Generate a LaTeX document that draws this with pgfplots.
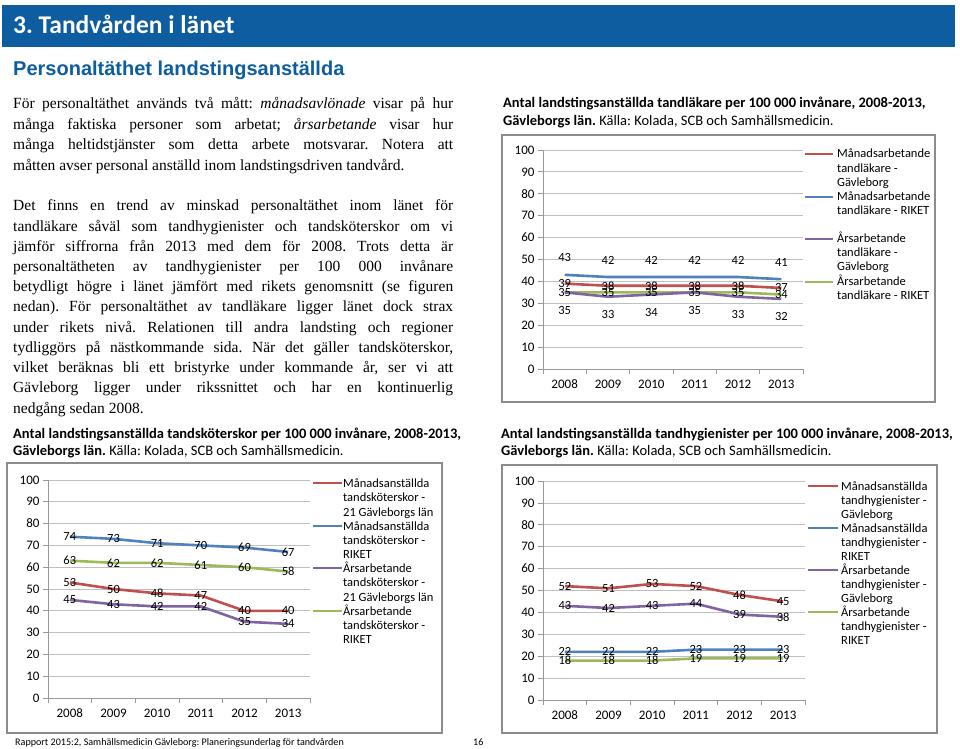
\documentclass[border=0pt]{standalone}
\usepackage{fontspec}
\usepackage{pgfplots}
\pgfplotsset{compat=1.18}
\setmainfont{Liberation Serif}
\newfontfamily\calfont{Carlito}
\newfontfamily\arialfont{Liberation Sans}
\frenchspacing

\definecolor{hdr}{RGB}{14,93,160}
\definecolor{sred}{RGB}{192,80,77}
\definecolor{sblue}{RGB}{79,129,189}
\definecolor{spurple}{RGB}{128,100,162}
\definecolor{sgreen}{RGB}{155,187,89}
\definecolor{framegray}{RGB}{140,140,140}

\pgfplotsset{
  /pgf/number format/assume math mode=true,
  excel/.style={
    scale only axis, anchor=south west,
    width=261pt, height=219pt,
    xmin=-0.5, xmax=5.5, ymin=0, ymax=100,
    axis lines=left, axis line style={-, draw=gray!80, line width=0.8pt},
    xtick={0,...,5},
    xticklabels={2008,2009,2010,2011,2012,2013},
    minor xtick={-0.5,0.5,...,5.5},
    major x tick style={draw=none},
    ytick={0,10,...,100},
    tick align=outside, major tick length=5pt, minor tick length=5pt,
    tick style={draw=gray!80, line width=0.8pt},
    ymajorgrids, grid style={draw=gray!50, line width=0.8pt},
    tick label style={font=\calfont\fontsize{13}{15}\selectfont},
    xticklabel style={anchor=base, yshift=-14pt},
    every axis plot/.append style={line width=2.6pt, mark=none},
    nodes near coords,
    every node near coord/.append style={font=\calfont\fontsize{12.5}{14}\selectfont,
      anchor=center, inner sep=0pt, text=black},
  }
}

% text helpers (y measured from the top of the page)
\newcommand\jline[2]{\node[anchor=base west, inner sep=0pt, font=\fontsize{15.5}{20}\selectfont]
  at (13,748-#1) {\makebox[440pt][s]{#2}};}
\newcommand\nline[2]{\node[anchor=base west, inner sep=0pt, font=\fontsize{15.5}{20}\selectfont]
  at (13,748-#1) {#2};}
\newcommand\capt[3]{\node[anchor=base west, inner sep=0pt, font=\calfont\fontsize{14.5}{16}\selectfont]
  at (#1,748-#2) {#3};}
\newcommand\legt[3]{\node[anchor=base west, inner sep=0pt, font=\calfont\fontsize{12.5}{14}\selectfont]
  at (#1,748-#2-4) {#3};}
\newcommand\legl[4]{\draw[#4, line width=2.6pt] (#1,748-#3) -- (#2,748-#3);}

\begin{document}
\begin{tikzpicture}[x=1pt,y=1pt]
\path[use as bounding box, fill=white] (0,0) rectangle (960,748);

% header
\fill[hdr] (2,748-5) rectangle (955,748-47);
\node[anchor=base west, inner sep=0pt, text=white, font=\calfont\bfseries\fontsize{25.5}{30}\selectfont]
  at (13,748-34) {3. Tandvården i länet};
\node[anchor=base west, inner sep=0pt, text=hdr, font=\arialfont\bfseries\fontsize{20}{24}\selectfont]
  at (13,748-76) {Personaltäthet landstingsanställda};

% body text
\jline{109}{För personaltäthet används två mått: \emph{månadsavlönade} visar på hur}
\jline{129.5}{många faktiska personer som arbetat; \emph{årsarbetande} visar hur}
\jline{150}{många heltidstjänster som detta arbete motsvarar. Notera att}
\nline{170.5}{måtten avser personal anställd inom landstingsdriven tandvård.}

\jline{211}{Det finns en trend av minskad personaltäthet inom länet för}
\jline{231.2}{tandläkare såväl som tandhygienister och tandsköterskor om vi}
\jline{251.4}{jämför siffrorna från 2013 med dem för 2008. Trots detta är}
\jline{271.6}{personaltätheten av tandhygienister per 100 000 invånare}
\jline{291.8}{betydligt högre i länet jämfört med rikets genomsnitt (se figuren}
\jline{312}{nedan). För personaltäthet av tandläkare ligger länet dock strax}
\jline{332.2}{under rikets nivå. Relationen till andra landsting och regioner}
\jline{352.4}{tydliggörs på nästkommande sida. När det gäller tandsköterskor,}
\jline{372.6}{vilket beräknas bli ett bristyrke under kommande år, ser vi att}
\jline{392.8}{Gävleborg ligger under rikssnittet och har en kontinuerlig}
\nline{413}{nedgång sedan 2008.}

% captions
\capt{503}{108}{\textbf{Antal landstingsanställda tandläkare per 100 000 invånare, 2008-2013,}}
\capt{503}{126}{\textbf{Gävleborgs län.} Källa: Kolada, SCB och Samhällsmedicin.}
\capt{13}{438}{\textbf{Antal landstingsanställda tandsköterskor per 100 000 invånare, 2008-2013,}}
\capt{13}{455}{\textbf{Gävleborgs län.} Källa: Kolada, SCB och Samhällsmedicin.}
\capt{501}{438}{\textbf{Antal landstingsanställda tandhygienister per 100 000 invånare, 2008-2013,}}
\capt{501}{455}{\textbf{Gävleborgs län.} Källa: Kolada, SCB och Samhällsmedicin.}

% frames
\draw[framegray, line width=1.3pt] (502,748-135) rectangle (935,748-402);
\draw[framegray, line width=1.3pt] (7,748-463) rectangle (442,748-733);
\draw[framegray, line width=1.3pt] (502,748-465) rectangle (937,748-733);

% chart 1: tandläkare
\begin{axis}[excel, at={(543pt,379pt)}, width=260pt, height=219pt]
\addplot[sred] coordinates {(0,39) (1,38) (2,38) (3,38) (4,38) (5,37)};
\addplot[sblue, every node near coord/.append style={yshift=17pt}]
  coordinates {(0,43) (1,42) (2,42) (3,42) (4,42) (5,41)};
\addplot[sgreen] coordinates {(0,35) (1,35) (2,35) (3,35) (4,35) (5,34)};
\addplot[spurple, every node near coord/.append style={yshift=-18pt}]
  coordinates {(0,35) (1,33) (2,34) (3,35) (4,33) (5,32)};
\end{axis}

% chart 2: tandsköterskor
\begin{axis}[excel, at={(48pt,50pt)}, width=262pt, height=218pt]
\addplot[sred] coordinates {(0,53) (1,50) (2,48) (3,47) (4,40) (5,40)};
\addplot[sblue] coordinates {(0,74) (1,73) (2,71) (3,70) (4,69) (5,67)};
\addplot[spurple] coordinates {(0,45) (1,43) (2,42) (3,42) (4,35) (5,34)};
\addplot[sgreen] coordinates {(0,63) (1,62) (2,62) (3,61) (4,60) (5,58)};
\end{axis}

% chart 3: tandhygienister
\begin{axis}[excel, at={(543pt,48pt)}, width=262pt, height=219pt]
\addplot[sred] coordinates {(0,52) (1,51) (2,53) (3,52) (4,48) (5,45)};
\addplot[sblue] coordinates {(0,22) (1,22) (2,22) (3,23) (4,23) (5,23)};
\addplot[spurple] coordinates {(0,43) (1,42) (2,43) (3,44) (4,39) (5,38)};
\addplot[sgreen] coordinates {(0,18) (1,18) (2,18) (3,19) (4,19) (5,19)};
\end{axis}

% legend chart 1
\legl{805}{833}{154}{sred}
\legl{805}{833}{197}{sblue}
\legl{805}{833}{239}{spurple}
\legl{805}{833}{282}{sgreen}
\legt{837}{154}{Månadsarbetande}
\legt{837}{169}{tandläkare -}
\legt{837}{183}{Gävleborg}
\legt{837}{197}{Månadsarbetande}
\legt{837}{211}{tandläkare - RIKET}
\legt{837}{239}{Årsarbetande}
\legt{837}{253}{tandläkare -}
\legt{837}{267}{Gävleborg}
\legt{837}{282}{Årsarbetande}
\legt{837}{296}{tandläkare - RIKET}

% legend chart 2
\legl{313}{342}{483}{sred}
\legl{313}{342}{526}{sblue}
\legl{313}{342}{568}{spurple}
\legl{313}{342}{611}{sgreen}
\legt{343}{483}{Månadsanställda}
\legt{343}{497}{tandsköterskor -}
\legt{343}{512}{21 Gävleborgs län}
\legt{343}{526}{Månadsanställda}
\legt{343}{540}{tandsköterskor -}
\legt{343}{554}{RIKET}
\legt{343}{568}{Årsarbetande}
\legt{343}{582}{tandsköterskor -}
\legt{343}{597}{21 Gävleborgs län}
\legt{343}{611}{Årsarbetande}
\legt{343}{625}{tandsköterskor -}
\legt{343}{639}{RIKET}

% legend chart 3
\legl{808}{838}{486}{sred}
\legl{808}{838}{528}{sblue}
\legl{808}{838}{570}{spurple}
\legl{808}{838}{612}{sgreen}
\legt{841}{486}{Månadsanställda}
\legt{841}{500}{tandhygienister -}
\legt{841}{514}{Gävleborg}
\legt{841}{528}{Månadsanställda}
\legt{841}{542}{tandhygienister -}
\legt{841}{556}{RIKET}
\legt{841}{570}{Årsarbetande}
\legt{841}{584}{tandhygienister -}
\legt{841}{598}{Gävleborg}
\legt{841}{612}{Årsarbetande}
\legt{841}{626}{tandhygienister -}
\legt{841}{640}{RIKET}

% footer
\node[anchor=base west, inner sep=0pt, font=\calfont\fontsize{10.1}{12}\selectfont]
  at (15,748-745) {Rapport 2015:2, Samhällsmedicin Gävleborg: Planeringsunderlag för tandvården};
\node[anchor=base west, inner sep=0pt, font=\calfont\fontsize{10.1}{12}\selectfont]
  at (473,748-745) {16};
\end{tikzpicture}
\end{document}
